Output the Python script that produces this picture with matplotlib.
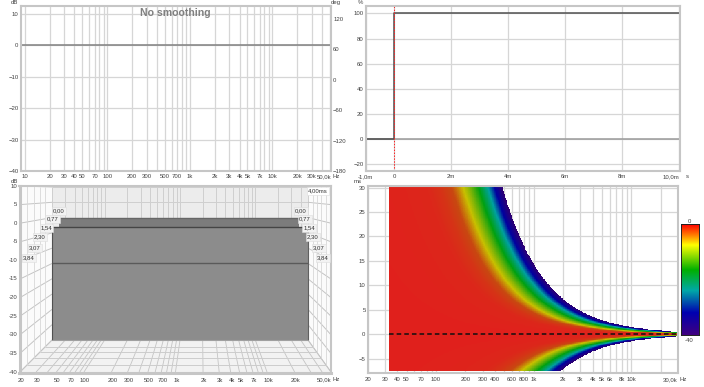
import numpy as np
import matplotlib
matplotlib.use("Agg")
import matplotlib.pyplot as plt
from matplotlib.colors import LinearSegmentedColormap

plt.rcParams['font.family'] = ['Liberation Sans', 'DejaVu Sans']
plt.rcParams['font.size'] = 4.3

# top left, magnitude and phase
freq_ticks = [10, 20, 30, 40, 50, 70, 100, 200, 300, 500, 700, 1000, 2000, 3000, 4000, 5000, 7000, 10000, 20000, 30000, 51400]
freq_labels = ['10', '20', '30', '40', '50', '70', '100', '200', '300', '500', '700', '1k', '2k', '3k', '4k', '5k', '7k', '10k', '20k', '30k', '50,0k']
spl_ticks = [10, 0, -10, -20, -30, -40]
phase_ticks = [120, 60, 0, -60, -120, -180]
spl_freqs = [8.87, 51400]
spl_values = [0, 0]

# top right, step response
step_time = [-1, 0, 0, 10]
step_values = [0, 0, 100, 100]
step_ticks = [-20, 0, 20, 40, 60, 80, 100]
time_ticks = [-1, 0, 2, 4, 6, 8, 10]
time_labels = ['-1,0m', '0', '2m', '4m', '6m', '8m', '10,0m']

# bottom left, waterfall
wf_freq_ticks = [20, 30, 50, 70, 100, 200, 300, 500, 700, 1000, 2000, 3000, 4000, 5000, 7000, 10000, 20000, 50000]
wf_freq_labels = ['20', '30', '50', '70', '100', '200', '300', '500', '700', '1k', '2k', '3k', '4k', '5k', '7k', '10k', '20k', '50,0k']
wf_db_ticks = [10, 5, 0, -5, -10, -15, -20, -25, -30, -35, -40]
wf_slices = ['0,00', '0,77', '1,54', '2,30', '3,07', '3,84']
wf_top_freqs = [24.8, 38000]
wf_levels = [0, -3, -14.8]

# bottom right, spectrogram
sg_freq_ticks = [20, 30, 40, 50, 70, 100, 200, 300, 400, 600, 800, 1000, 2000, 3000, 4000, 5000, 6000, 8000, 10000, 30000]
sg_freq_labels = ['20', '30', '40', '50', '70', '100', '200', '300', '400', '600', '800', '1k', '2k', '3k', '4k', '5k', '6k', '8k', '10k', '30,0k']
sg_time_ticks = [30, 25, 20, 15, 10, 5, 0, -5]
# level against number of cycles after the impulse, read along the colour bands
sg_cycles = [0, 2.5, 3.4, 4.35, 5.7, 8.2, 10.2, 12.0, 14.4]
sg_levels = [0, -0.8, -2, -4, -7.5, -16.5, -24, -32, -40]
level_stops = [0, -4, -7.5, -16.5, -24, -32, -40]
image_colors = ['#e0201c', '#c84810', '#c8c000', '#00a010', '#00a0a0', '#0000a0', '#300070']
bar_colors = ['#ff0000', '#ff8000', '#ffff00', '#00b000', '#00a8a8', '#0000b0', '#400080']

W, H = 704, 387
FRAME = '#c6c6c6'
GRID = '#d6d6d6'
TEXT = '#404040'
LABEL = 4.3


def panel(fig, left, top, right, bottom):
    """Axes placed by pixel edges of the screenshot."""
    ax = fig.add_axes([left / W, 1 - bottom / H, (right - left) / W, (bottom - top) / H])
    for spine in ax.spines.values():
        spine.set_color(FRAME)
        spine.set_linewidth(1.5)
    ax.tick_params(which='both', length=0, pad=1.5, labelsize=LABEL, labelcolor=TEXT)
    return ax


def log_grid(ax, low, high):
    minors = [m * 10 ** e for e in range(1, 5) for m in range(1, 10)]
    ax.set_xscale('log')
    ax.set_xticks([m for m in minors if low < m < high], minor=True)
    ax.set_xticklabels([], minor=True)
    ax.grid(True, which='both', color=GRID, linewidth=0.9)
    ax.set_axisbelow(True)


def unit(x, y, s):
    plt.figtext(x / W, 1 - y / H, s, fontsize=LABEL, color=TEXT, ha='center', va='center')


def end_labels(ax, pad):
    # baseline alignment so the comma does not shift a label, last one stays inside the frame
    ax.tick_params(axis='x', which='major', pad=pad)
    for label in ax.get_xticklabels():
        label.set_va('baseline')
    ax.get_xticklabels()[-1].set_ha('right')


def draw_magnitude(fig):
    ax = panel(fig, 20.5, 6, 331, 171)
    log_grid(ax, 8.87, 51400)
    ax.set_xlim(8.87, 51400)
    ax.set_ylim(-40, 12.5)
    ax.set_xticks(freq_ticks)
    ax.set_xticklabels(freq_labels)
    end_labels(ax, 5)
    ax.set_yticks(spl_ticks)
    ax.plot(spl_freqs, spl_values, color='#808080', linewidth=1.1)
    ax.text(0.5, 0.955, 'No smoothing', transform=ax.transAxes, ha='center', va='center',
            fontsize=7.6, fontweight='bold', color='#808080')

    phase = ax.twinx()
    phase.set_ylim(-180, 145.5)
    phase.set_yticks(phase_ticks)
    phase.tick_params(length=0, pad=1.5, labelsize=LABEL, labelcolor=TEXT)
    for spine in phase.spines.values():
        spine.set_visible(False)
    unit(14, 2.5, 'dB')
    unit(336, 2.5, 'deg')
    unit(336, 176, 'Hz')


def draw_step(fig):
    ax = panel(fig, 365.7, 6, 679.7, 171)
    ax.set_xlim(-1, 10.02)
    ax.set_ylim(-25.5, 105.9)
    ax.set_xticks(time_ticks)
    ax.set_xticklabels(time_labels)
    end_labels(ax, 5)
    ax.set_yticks(step_ticks)
    ax.grid(True, color=GRID, linewidth=0.9)
    ax.set_axisbelow(True)
    ax.axhline(0, color='#9a9a9a', linewidth=1.1)
    ax.plot(step_time, step_values, color='#505050', linewidth=1.1)
    ax.axvline(0, color='#ff2020', linewidth=0.7, linestyle=(0, (1.5, 1.5)))
    unit(360, 2.5, '%')
    unit(687, 176, 's')


def draw_waterfall(fig):
    ax = panel(fig, 19.5, 185.7, 331, 372.7)
    ax.set_xlim(19.5, 331)
    ax.set_ylim(372.7, 185.7)
    ax.set_xticks([])
    ax.set_yticks([])
    ax.spines['left'].set_linewidth(2.2)
    ax.spines['bottom'].set_linewidth(2.2)

    front_x = (20, 331)
    back_x = (52, 308)
    top_y, front_y, back_y = 186, 372, 340
    span = np.log10(50000 / 20)

    def project(freq, db, depth):
        # depth 0 is the back wall, 1 the front plane
        pos = np.log10(freq / 20) / span
        xb = back_x[0] + pos * (back_x[1] - back_x[0])
        xf = front_x[0] + pos * (front_x[1] - front_x[0])
        yb = back_y - (db + 40) / 50 * (back_y - top_y - 1)
        yf = front_y - (db + 40) / 50 * (front_y - top_y)
        return xb + depth * (xf - xb), yb + depth * (yf - yb)

    def quad(corners, color, z=1):
        xs, ys = zip(*[project(*c) for c in corners])
        ax.fill(xs, ys, color=color, linewidth=0, zorder=z)

    def seg(a, b, color=GRID, lw=0.7, z=2):
        xa, ya = project(*a)
        xb, yb = project(*b)
        ax.plot([xa, xb], [ya, yb], color=color, linewidth=lw, zorder=z, solid_capstyle='butt')

    low, high = 20, 50000
    quad([(low, 10, 0), (high, 10, 0), (high, -40, 0), (low, -40, 0)], '#ececec')
    quad([(low, 10, 0), (low, -40, 0), (low, -40, 1), (low, 10, 1)], '#fbfbfb')
    quad([(high, 10, 0), (high, -40, 0), (high, -40, 1), (high, 10, 1)], '#fbfbfb')
    quad([(low, -40, 0), (high, -40, 0), (high, -40, 1), (low, -40, 1)], '#f2f2f2')

    minors = [m * 10 ** e for e in range(1, 5) for m in range(1, 10)]
    for f in [m for m in minors if low <= m <= high]:
        seg((f, 10, 0), (f, -40, 0), color='#cfcfcf')
        seg((f, -40, 0), (f, -40, 1), color='#c4c4c4', lw=0.6)
    for db in wf_db_ticks:
        seg((low, db, 0), (high, db, 0), color='#cfcfcf')
        seg((low, db, 1), (low, db, 0), color='#c4c4c4')
        seg((high, db, 1), (high, db, 0), color='#c4c4c4')
    for d in (0.22, 0.375, 0.56, 0.78):
        seg((low, -40, d), (high, -40, d), color='#cccccc', lw=0.7)
        seg((low, -40, d), (low, 10, d), color='#d8d8d8', lw=0.6)
        seg((high, -40, d), (high, 10, d), color='#d8d8d8', lw=0.6)

    # the slices of the decay, stepped back from the wall
    f0, f1 = wf_top_freqs
    quad([(f0, wf_levels[0], 0), (f1, wf_levels[0], 0), (f1, wf_levels[1], 0), (f0, wf_levels[1], 0)], '#7c7c7c', z=3)
    quad([(low, wf_levels[1], 0), (high, wf_levels[1], 0), (high, -40, 0), (low, -40, 0)], '#8c8c8c', z=3)
    for lev, col in zip(wf_levels, ('#666666', '#454545', '#5a5a5a')):
        seg((f0 if lev == 0 else low, lev, 0), (f1 if lev == 0 else high, lev, 0), color=col, lw=1.0, z=4)
    seg((low, wf_levels[1], 0), (low, -40, 0), color='#505050', lw=0.8, z=4)
    seg((high, wf_levels[1], 0), (high, -40, 0), color='#606060', lw=0.8, z=4)
    seg((low, -40, 0), (high, -40, 0), color='#a0a0a0', lw=0.8, z=4)

    box = dict(facecolor='#f2f2f2', edgecolor='#dddddd', linewidth=0.4, pad=0.8)
    left_pos = [(59, 211), (52.5, 219), (46.5, 228), (40, 237), (35, 248), (29, 258)]
    right_pos = [(301, 211), (305, 219), (309, 228), (313, 237), (319, 248), (323, 258)]
    for s, (lx, ly), (rx, ry) in zip(wf_slices, left_pos, right_pos):
        ax.text(lx, ly, s, ha='center', va='center', fontsize=LABEL, color='#303030', bbox=box, zorder=5)
        ax.text(rx, ry, s, ha='center', va='center', fontsize=LABEL, color='#303030', bbox=box, zorder=5)
    ax.text(318, 191, '4,00ms', ha='center', va='center', fontsize=LABEL, color='#303030',
            bbox=dict(facecolor='white', edgecolor='#dddddd', linewidth=0.4, pad=0.8), zorder=5)

    for f, s in zip(wf_freq_ticks, wf_freq_labels):
        x, _ = project(f, -40, 1)
        plt.figtext(min(x + 1, 324) / W, 1 - 381.5 / H, s, fontsize=LABEL, color=TEXT, ha='center', va='baseline')
    for db in wf_db_ticks:
        _, y = project(low, db, 1)
        plt.figtext(17.5 / W, 1 - y / H, str(db), fontsize=LABEL, color=TEXT, ha='right', va='center')
    unit(14, 181.5, 'dB')
    unit(336, 379.5, 'Hz')


def draw_spectrogram(fig):
    ax = panel(fig, 367.7, 185.7, 678, 372.7)
    log_grid(ax, 20, 30000)
    ax.set_xlim(20, 30000)
    ax.set_ylim(-7.9, 30.4)
    ax.set_xticks(sg_freq_ticks)
    ax.set_xticklabels(sg_freq_labels)
    end_labels(ax, 6.3)
    ax.set_yticks(sg_time_ticks)
    ax.grid(True, which='both', axis='both', color=GRID, linewidth=0.9)

    cmap = LinearSegmentedColormap.from_list('sg', list(zip((np.array(level_stops) + 40) / 40, image_colors))[::-1])
    freqs = np.geomspace(33.3, 30000, 420)
    times = np.linspace(-7.5, 30, 280)
    ff, tt = np.meshgrid(freqs, times)
    cycles = np.abs(tt) * ff / 1000
    level = np.interp(cycles, sg_cycles, sg_levels, right=np.nan)
    ax.pcolormesh(freqs, times, np.ma.masked_invalid(level), cmap=cmap, vmin=-40, vmax=0,
                  shading='nearest', rasterized=True, zorder=2)
    ax.plot([33.3, 30000], [0, 0], color='#101010', linewidth=1.1, linestyle=(0, (3, 2)), zorder=3)
    unit(358, 181.5, 'ms')
    unit(683.5, 379.5, 'Hz')

    bar = fig.add_axes([681 / W, 1 - 335 / H, 17.7 / W, 110.7 / H])
    bar_cmap = LinearSegmentedColormap.from_list('bar', list(zip((np.array(level_stops) + 40) / 40, bar_colors))[::-1])
    bar.imshow(np.linspace(0, -40, 256)[:, None], cmap=bar_cmap, vmin=-40, vmax=0, aspect='auto')
    bar.set_xticks([])
    bar.set_yticks([])
    for spine in bar.spines.values():
        spine.set_color('#202020')
        spine.set_linewidth(0.7)
    unit(689.5, 221, '0')
    unit(689.5, 340, '-40')


fig = plt.figure(figsize=(W / 100, H / 100), dpi=100, facecolor='white')
draw_magnitude(fig)
draw_step(fig)
draw_waterfall(fig)
draw_spectrogram(fig)
fig.savefig('out.png', dpi=100)
